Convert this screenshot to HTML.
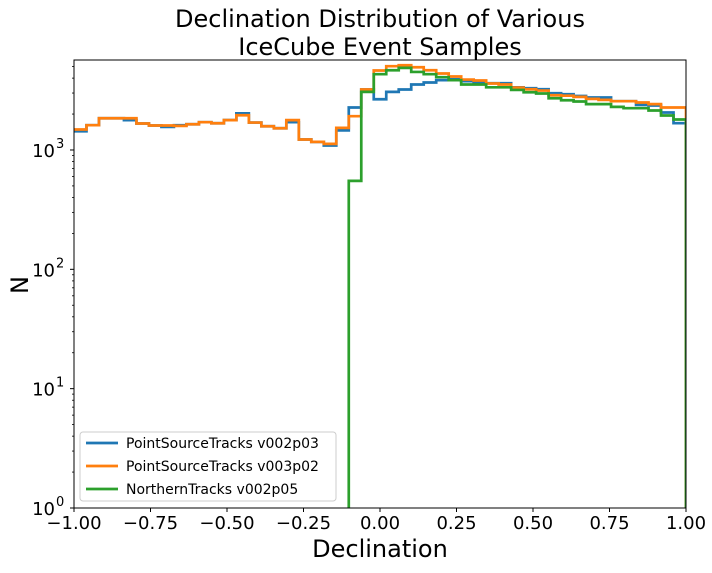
<!DOCTYPE html>
<html><head><meta charset="utf-8"><style>
body{margin:0;background:#fff;}
svg text{font-family:"DejaVu Sans","Liberation Sans",sans-serif;fill:#000;}
</style></head><body>
<svg id="chart" width="712" height="568" viewBox="0 0 712 568" xmlns="http://www.w3.org/2000/svg">
<rect width="712" height="568" fill="#fff"/>
<text x="380" y="27" font-size="24" text-anchor="middle">Declination Distribution of Various</text>
<text x="380" y="55" font-size="24" text-anchor="middle">IceCube Event Samples</text>
<defs><clipPath id="pc"><rect x="74" y="60" width="612" height="448"/></clipPath></defs>
<g id="series" clip-path="url(#pc)"></g>
<g id="axes"></g>
<text x="380" y="557" font-size="24" text-anchor="middle">Declination</text>
<text transform="translate(28,285) rotate(-90)" font-size="24" text-anchor="middle">N</text>
<g>
<rect x="80" y="432" width="256" height="69" rx="3" fill="#fff" fill-opacity="0.8" stroke="#ccc" stroke-width="1"/>
<line x1="86" y1="443" x2="118" y2="443" stroke="#1f77b4" stroke-width="2.7"/>
<text x="126" y="448" font-size="14">PointSourceTracks v002p03</text>
<line x1="86" y1="466" x2="118" y2="466" stroke="#ff7f0e" stroke-width="2.7"/>
<text x="126" y="471" font-size="14">PointSourceTracks v003p02</text>
<line x1="86" y1="489" x2="118" y2="489" stroke="#2ca02c" stroke-width="2.7"/>
<text x="126" y="494" font-size="14">NorthernTracks v002p05</text>
</g>
</svg>
<script>
const binEdgesMin = -1, binEdgesMax = 1, nBins = 49;
const psV002p03 = [1436,1614,1845,1845,1778,1667,1603,1561,1614,1644,1710,1675,1778,2028,1698,1581,1521,1710,1225,1169,1091,1459,2270,3214,2661,3069,3214,3538,3675,3845,3919,3770,3675,3622,3622,3350,3296,3229,2991,2932,2838,2754,2754,2564,2564,2388,2360,2061,1677];
const psV003p02 = [1485,1614,1845,1845,1845,1667,1603,1603,1592,1644,1710,1675,1778,1955,1698,1581,1521,1778,1225,1169,1125,1531,1919,3214,4634,5035,5130,4935,4656,4371,4128,3893,3819,3606,3538,3336,3229,3148,2876,2851,2786,2680,2630,2564,2564,2500,2421,2270,2270];
const ntV002p05 = [0,0,0,0,0,0,0,0,0,0,0,0,0,0,0,0,0,0,0,0,0,0,551,3069,4315,4656,4875,4508,4315,4073,3845,3538,3538,3350,3350,3186,3048,2972,2712,2611,2547,2421,2421,2296,2239,2239,2143,1945,1800];
const xTicks = [-1,-0.75,-0.5,-0.25,0,0.25,0.5,0.75,1];
const xTickLabels = ["\u22121.00","\u22120.75","\u22120.50","\u22120.25","0.00","0.25","0.50","0.75","1.00"];
const yTicks = [0,1,2,3];
const yTickLabels = ["10","10","10","10"];
const yTickExps = ["0","1","2","3"];

const L=74,R=686,T=60,B=508, logMin=0, logMax=3.754;
const NS="http://www.w3.org/2000/svg";
function xs(v){return L+(v-(-1))/2*(R-L);}
function ys(n){ if(n<=0) return B+50; return B-(Math.log10(n)-logMin)/(logMax-logMin)*(B-T);}
function mk(tag,attrs,parent){const e=document.createElementNS(NS,tag);for(const k in attrs)e.setAttribute(k,attrs[k]);parent.appendChild(e);return e;}
const sg=document.getElementById('series'), ag=document.getElementById('axes');
function drawSeries(vals,color,name){
  const w=(binEdgesMax-binEdgesMin)/nBins;
  let d="";
  for(let i=0;i<vals.length;i++){
    const x0=xs(binEdgesMin+i*w), x1=xs(binEdgesMin+(i+1)*w), y=ys(vals[i]);
    d+=(i===0?"M":" L")+x0+","+y+" L"+x1+","+y;
  }
  d+=" L"+xs(binEdgesMin+vals.length*w)+","+(B+50);
  const p=mk('path',{d:d,fill:'none',stroke:color,'stroke-width':2.7,'stroke-linejoin':'miter'},sg);
  
  
}
drawSeries(psV002p03,'#1f77b4','series-pointsource-v002p03');
drawSeries(psV003p02,'#ff7f0e','series-pointsource-v003p02');
drawSeries(ntV002p05,'#2ca02c','series-northern-v002p05');
const fr=mk('rect',{x:L,y:T,width:R-L,height:B-T,fill:'none',stroke:'#000','stroke-width':1},ag);


xTicks.forEach((v,i)=>{
  const x=xs(v);
  mk('line',{x1:x,y1:B,x2:x,y2:B+4,stroke:'#000'},ag);
  const t=mk('text',{x:x,y:B+21,'font-size':18,'text-anchor':'middle'},ag);
  t.textContent=xTickLabels[i];
  
  
});
yTicks.forEach((v,i)=>{
  const y=ys(Math.pow(10,v));
  mk('line',{x1:L-4,y1:y,x2:L,y2:y,stroke:'#000'},ag);
  const t=mk('text',{x:L-19,y:y+7,'font-size':18,'text-anchor':'end'},ag);
  t.textContent=yTickLabels[i];
  
  
  const s=mk('text',{x:L-18,y:y-2,'font-size':13,'text-anchor':'start'},ag);
  s.textContent=yTickExps[i];
  
  
});
for(let dec=0;dec<4;dec++){for(let m=2;m<10;m++){
  const n=m*Math.pow(10,dec); const y=ys(n); if(y<T) continue;
  mk('line',{x1:L-2,y1:y,x2:L,y2:y,stroke:'#000','stroke-width':0.8},ag);
}}
</script>
</body></html>
